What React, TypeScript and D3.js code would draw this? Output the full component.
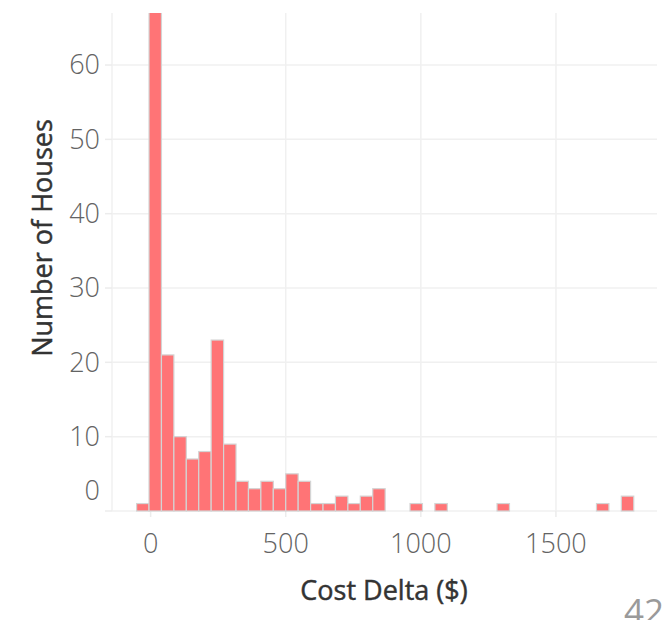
import React from "react";
import * as d3 from "d3";

// Histogram of cost deltas: bins start at BIN_START and are BIN_WIDTH dollars wide
const BIN_START = -52;
const BIN_WIDTH = 46;
const binCounts = [
  1, 98, 21, 10, 7, 8, 23, 9, 4, 3,
  4, 3, 5, 4, 1, 1, 2, 1, 2, 3,
  0, 0, 1, 0, 1, 0, 0, 0, 0, 1,
  0, 0, 0, 0, 0, 0, 0, 1, 0, 2,
];
const xTicks = [0, 500, 1000, 1500];
const yTicks = [0, 10, 20, 30, 40, 50, 60];
const xTitle = "Cost Delta ($)";
const yTitle = "Number of Houses";
const cornerText = "42";

const W = 666;
const H = 620;
const left = 112;
const right = 657;
const top = 13;
const bottom = 511;

const FONT = "'Open Sans', 'Noto Sans', sans-serif";

export default function App() {
  const x = d3.scaleLinear().domain([-143, 1874]).range([left, right]);
  const y = d3.scaleLinear().domain([0, 67]).range([bottom, top]);

  const bins = binCounts.map((c, i) => ({
    x0: BIN_START + i * BIN_WIDTH,
    x1: BIN_START + (i + 1) * BIN_WIDTH,
    count: c,
  }));

  return (
    <svg
      width={W}
      height={H}
      style={{ position: "absolute", left: 0, top: 0, display: "block", background: "#fff" }}
    >
      <defs>
        <clipPath id="plot-clip">
          <rect x={left} y={top} width={right - left} height={bottom - top + 2} />
        </clipPath>
      </defs>

      {/* grid */}
      <g stroke="#f0f0f0" strokeWidth={1.5}>
        {yTicks.map((t) => (
          <line key={"hy" + t} x1={left} x2={right} y1={y(t)} y2={y(t)} />
        ))}
        {xTicks.map((t) => (
          <line key={"vx" + t} x1={x(t)} x2={x(t)} y1={top} y2={bottom} />
        ))}
        <line x1={left} x2={left} y1={top} y2={bottom} />
      </g>

      {/* tick marks */}
      <g stroke="#ececec" strokeWidth={1.5}>
        {yTicks.map((t) => (
          <line key={"ty" + t} x1={left - 7} x2={left} y1={y(t)} y2={y(t)} />
        ))}
        {xTicks.map((t) => (
          <line key={"tx" + t} x1={x(t)} x2={x(t)} y1={bottom} y2={bottom + 6} />
        ))}
      </g>

      {/* bars */}
      <g clipPath="url(#plot-clip)">
        {bins
          .filter((b) => b.count > 0)
          .map((b, i) => (
            <rect
              key={i}
              x={x(b.x0)}
              y={y(b.count)}
              width={x(b.x1) - x(b.x0)}
              height={y(0) - y(b.count)}
              fill="#ff7476"
              stroke="#d4d4d4"
              strokeWidth={1.2}
            />
          ))}
      </g>

      {/* y tick labels */}
      <g fontFamily={FONT} fontSize={27} fontWeight={300} fill="#636363" textAnchor="end">
        {yTicks.map((t) => (
          <text key={"ly" + t} x={100} y={Math.min(y(t), y(0) - 20)} dy="0.35em">
            {t}
          </text>
        ))}
      </g>

      {/* x tick labels */}
      <g fontFamily={FONT} fontSize={27} fontWeight={300} fill="#636363" textAnchor="middle">
        {xTicks.map((t) => (
          <text key={"lx" + t} x={x(t)} y={553}>
            {t}
          </text>
        ))}
      </g>

      {/* axis titles */}
      <g fontFamily={FONT} fontSize={27} fill="#333" stroke="#333" strokeWidth={0.45} textAnchor="middle">
        <text x={384} y={600}>
          {xTitle}
        </text>
        <text transform={`translate(52, 238) rotate(-90)`}>{yTitle}</text>
      </g>

      <text x={624} y={624} fontFamily={FONT} fontSize={35} fill="#9a9a9a">
        {cornerText}
      </text>
    </svg>
  );
}
